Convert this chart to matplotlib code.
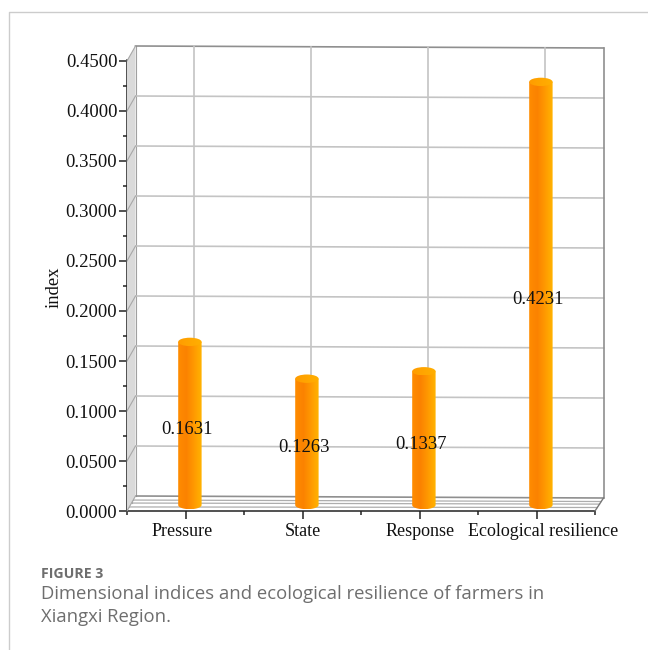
import numpy as np
from matplotlib import pyplot as plt
from matplotlib.colors import LinearSegmentedColormap
from matplotlib.lines import Line2D
from matplotlib.patches import Ellipse, Polygon
from matplotlib.path import Path
from matplotlib.transforms import Affine2D, ScaledTranslation

categories = ['Pressure', 'State', 'Response', 'Ecological resilience']
index_values = [0.1631, 0.1263, 0.1337, 0.4231]
value_labels = ['0.1631', '0.1263', '0.1337', '0.4231']
y_ticks = [0.00, 0.05, 0.10, 0.15, 0.20, 0.25, 0.30, 0.35, 0.40, 0.45]
y_tick_labels = ['0.0000', '0.0500', '0.1000', '0.1500', '0.2000',
                 '0.2500', '0.3000', '0.3500', '0.4000', '0.4500']
# Nudge of each category label in pixels
label_nudges = [-3, 0, 1, 7]

W, H = 648, 650
SERIF = 'Liberation Serif'

fig = plt.figure(figsize=(W / 100, H / 100), dpi=100, facecolor='white')

# Card border
fig.add_artist(Line2D([9 / W, 9 / W, 1], [0, 1 - 12 / H, 1 - 12 / H],
                      color='#cccccc', lw=1.0))

# Front plane of the 3D box
ax = fig.add_axes([127 / W, (H - 511) / H, 468 / W, 451 / H])
ax.set_xlim(0, 4)
ax.set_ylim(0, 0.451)
ax.patch.set_visible(False)


def depth_trans(d, tilt=True):
    """Data transform for a plane d of the way to the back wall (0=front, 1=back)."""
    shear = -2.0 / 468 if tilt else 0.0
    x0 = ax.transAxes.transform((0, 0))[0]
    mtx = np.array([[1, 0, 8.5 * d],
                    [shear * d, 1, 15 * d - shear * d * x0],
                    [0, 0, 1]])
    return ax.transData + Affine2D(mtx)


back = depth_trans(1.0)
wall_depths = [0.0, 0.27, 0.53, 0.73, 1.0]

# Left wall
front_pts = ax.transData.transform([(0, 0), (0, 0.45)])
back_pts = back.transform([(0, 0), (0, 0.45)])
fig.add_artist(Polygon(np.vstack([front_pts, back_pts[::-1]]), closed=True,
                       transform=None, facecolor='#dadada', edgecolor='none',
                       zorder=0.5))
for d in wall_depths:
    ax.plot([0, 0], [0, 0.45], color='#a0a0a0', lw=0.8, zorder=1,
            transform=depth_trans(d), clip_on=False)

# Slanted lines joining front ticks to the back wall
for yt in y_ticks:
    p0 = ax.transData.transform((0, yt))
    p1 = back.transform((0, yt))
    fig.add_artist(Line2D([p0[0], p1[0]], [p0[1], p1[1]], transform=None,
                          color='#a8a8a8', lw=0.8, zorder=1))

# Back wall grid
for yt in y_ticks:
    col = '#8f8f8f' if yt in (0.0, 0.45) else '#c4c4c4'
    ax.plot([0, 4], [yt, yt], color=col, lw=1.2, transform=back, zorder=1,
            clip_on=False)
for xt in [0.5, 1.5, 2.5, 3.5]:
    ax.plot([xt, xt], [0, 0.45], color='#c4c4c4', lw=1.2, transform=back,
            zorder=1, clip_on=False)
ax.plot([4, 4], [0, 0.45], color='#8f8f8f', lw=1.2, transform=back, zorder=1,
        clip_on=False)

# Floor and right-hand edge
for d in wall_depths[1:-1]:
    ax.plot([0, 4], [0, 0], color='#adadad', lw=0.9, transform=depth_trans(d),
            zorder=1, clip_on=False)
p0 = depth_trans(0.0).transform((4, 0))
p1 = back.transform((4, 0))
fig.add_artist(Line2D([p0[0], p1[0]], [p0[1], p1[1]], transform=None,
                      color='#777777', lw=1.0, zorder=1))

# Cylinders stand a little in front of mid-depth
cyl_trans = depth_trans(0.4, tilt=False) + Affine2D().translate(1, 0)
body_cmap = LinearSegmentedColormap.from_list(
    'body', [(0, '#ff8c00'), (0.35, '#fb8200'), (0.65, '#ff9800'), (1, '#ffb400')])
top_cmap = LinearSegmentedColormap.from_list('top', ['#ff9c00', '#ffb000'])
half_w = 0.1
ry = 0.0042
theta = np.linspace(0, np.pi, 60)
shade = np.linspace(0, 1, 256).reshape(1, -1)

for i, val in enumerate(index_values):
    xc = i + 0.5
    ex = half_w * np.cos(theta)
    ey = ry * np.sin(theta)
    # body outline: top edge, then the lower rim of the base
    xs = np.concatenate([[xc - half_w, xc + half_w], xc + ex])
    ys = np.concatenate([[val, val], -ey])
    body = Path(np.column_stack([xs, ys]))
    im = ax.imshow(shade, cmap=body_cmap, aspect='auto', zorder=3,
                   extent=(xc - half_w, xc + half_w, -ry, val))
    im.set_transform(cyl_trans)
    im.set_clip_path(body, transform=cyl_trans)

    cap = Ellipse((xc, val), 2 * half_w, 2 * ry, transform=cyl_trans,
                  facecolor='none', edgecolor='none')
    ax.add_patch(cap)
    cap_im = ax.imshow(shade, cmap=top_cmap, aspect='auto', zorder=4,
                       extent=(xc - half_w, xc + half_w, val - ry, val + ry))
    cap_im.set_transform(cyl_trans)
    cap_im.set_clip_path(cap)

    ax.text(xc + 0.01, val / 2, value_labels[i], family=SERIF,
            fontsize=13.4, ha='center', va='center', color='#111111', zorder=5)

ax.set_xlim(0, 4)
ax.set_ylim(0, 0.451)

# Axes, ticks and labels
for side in ('top', 'right'):
    ax.spines[side].set_visible(False)
for side in ('left', 'bottom'):
    ax.spines[side].set_linewidth(1.1)
    ax.spines[side].set_color('#222222')
    ax.spines[side].set_zorder(2)

ax.set_yticks(y_ticks)
ax.set_yticklabels(y_tick_labels, family=SERIF, fontsize=13.4, color='#111111')
ax.set_yticks(np.arange(0.025, 0.45, 0.05), minor=True)
ax.set_xticks([0.5, 1.5, 2.5, 3.5])
ax.set_xticklabels(categories, family=SERIF, fontsize=13.0, color='#111111')
ax.set_xticks([0, 1, 2, 3, 4], minor=True)
ax.tick_params(axis='both', which='major', length=5.5, width=1.1, color='#222222')
ax.tick_params(axis='both', which='minor', length=3.2, width=1.1, color='#222222')
ax.tick_params(axis='x', which='major', pad=3)
ax.tick_params(axis='y', which='major', pad=1.5)

for lab, nudge in zip(ax.get_xticklabels(), label_nudges):
    lab.set_transform(lab.get_transform()
                      + ScaledTranslation(nudge / 100, 0, fig.dpi_scale_trans))

ax.set_ylabel('index', family=SERIF, fontsize=13.4, color='#111111')
ax.yaxis.set_label_coords(-0.138, 0.497)

# Caption below the chart
fig.text(41 / W, 1 - 574 / H, 'FIGURE 3', family='Open Sans', weight='bold',
         fontsize=10.2, color='#6e6e6e', va='center')
fig.text(41 / W, 1 - 594 / H,
         'Dimensional indices and ecological resilience of farmers in',
         family='Open Sans', fontsize=13.3, color='#6e6e6e', va='center')
fig.text(41 / W, 1 - 617 / H, 'Xiangxi Region.', family='Open Sans',
         fontsize=13.3, color='#6e6e6e', va='center')

fig.savefig('out.png', dpi=100)
